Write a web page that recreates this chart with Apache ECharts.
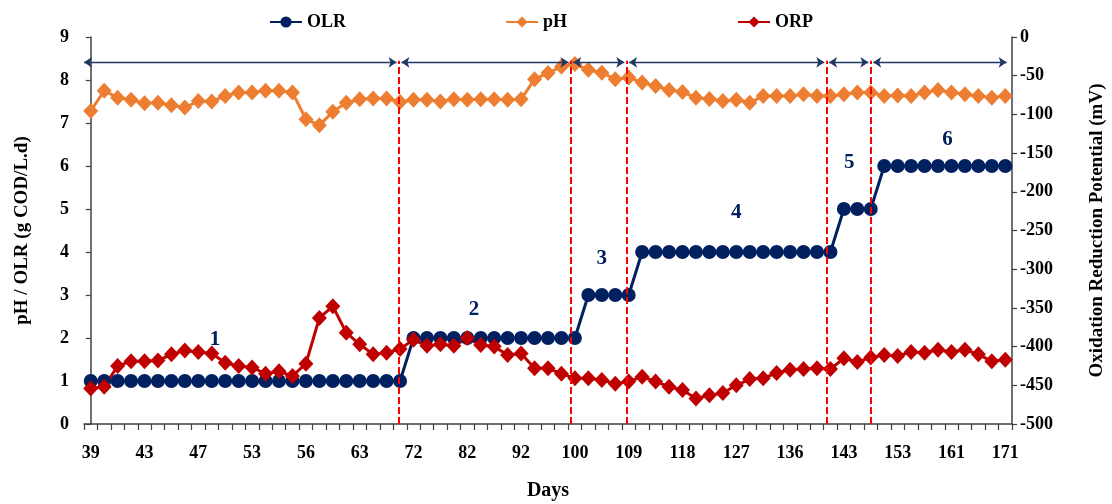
<!DOCTYPE html>
<html>
<head>
<meta charset="utf-8">
<script src="https://cdn.jsdelivr.net/npm/echarts@6/dist/echarts.min.js"></script>
<style>
  html, body { margin: 0; padding: 0; background: #fff; }
  #chart { width: 1112px; height: 504px; }
</style>
</head>
<body>
<div id="chart"></div>
<script>
// days of operation (x categories, every 4th one is labelled)
var days = [39, 40, 41, 42, 43, 44, 45, 46, 47, 49, 50, 52, 53, 54, 54, 55, 56,
  58, 60, 61, 63, 65, 67, 70, 72, 74, 77, 79, 82, 84, 87, 89, 92, 94, 96, 98, 100,
  102, 104, 107, 109, 111, 113, 116, 118, 120, 122, 125, 127, 129, 131, 134, 136,
  138, 140, 141, 143, 145, 148, 150, 153, 155, 157, 159, 161, 163, 166, 168, 171];

// organic loading rate, g COD/L.d
var olr = [1, 1, 1, 1, 1, 1, 1, 1, 1, 1, 1, 1, 1, 1, 1, 1, 1, 1, 1, 1, 1, 1, 1, 1,
  2, 2, 2, 2, 2, 2, 2, 2, 2, 2, 2, 2, 2,
  3, 3, 3, 3,
  4, 4, 4, 4, 4, 4, 4, 4, 4, 4, 4, 4, 4, 4, 4,
  5, 5, 5,
  6, 6, 6, 6, 6, 6, 6, 6, 6, 6];

var ph = [7.28, 7.75, 7.59, 7.54, 7.46, 7.47, 7.41, 7.36, 7.51, 7.50, 7.63, 7.71,
  7.71, 7.75, 7.75, 7.71, 7.09, 6.95, 7.26, 7.47, 7.55, 7.57, 7.57, 7.49,
  7.54, 7.54, 7.50, 7.55, 7.54, 7.55, 7.55, 7.54, 7.55, 8.02, 8.16, 8.31, 8.37,
  8.24, 8.17, 8.02, 8.06, 7.94, 7.86, 7.77, 7.72, 7.59, 7.56,
  7.51, 7.54, 7.47, 7.63, 7.63, 7.63, 7.67, 7.63, 7.63, 7.67, 7.71, 7.71, 7.63,
  7.64, 7.63, 7.71, 7.77, 7.71, 7.67, 7.63, 7.59, 7.63];

// oxidation reduction potential, mV
var orp = [-454, -452, -425, -419, -419, -418, -410, -405, -407, -409, -421, -425,
  -427, -435, -432, -438, -422, -363, -348, -382, -397, -410, -408, -403,
  -391, -399, -397, -399, -389, -398, -400, -411, -409, -428, -428, -435, -441,
  -441, -443, -448, -445, -439, -445, -452, -456, -467, -463,
  -460, -450, -442, -441, -434, -430, -429, -428, -429, -415, -420, -414, -411,
  -412, -407, -408, -404, -407, -404, -410, -419, -417];

// phase boundaries (in category index units) and phase numbers
var phaseBounds = [22.92, 35.7, 39.85, 54.72, 58.0];
var phaseNames = ['1', '2', '3', '4', '5', '6'];
var phaseNameX = [9.24, 28.5, 38.0, 48.0, 56.4, 63.7];
var phaseNameY = [1.96, 2.66, 3.84, 4.92, 6.08, 6.62];
var arrowLevel = 8.41;

var font = 'Liberation Serif';
var axisColor = '#404040';

// arrows between the phase boundaries
var edges = [-0.5].concat(phaseBounds).concat([68.6]);
var arrowLines = [];
for (var i = 0; i < edges.length - 1; i++) {
  var a = i == 0 ? edges[i] : edges[i] + 0.18;
  var b = i == edges.length - 2 ? 68.1 : edges[i + 1] - 0.18;
  arrowLines.push([{coord: [a, arrowLevel]}, {coord: [b, arrowLevel]}]);
}
var boundLines = [];
for (var i = 0; i < phaseBounds.length; i++) {
  boundLines.push([{coord: [phaseBounds[i], 0]}, {coord: [phaseBounds[i], arrowLevel + 0.04]}]);
}
var phasePoints = [];
for (var i = 0; i < phaseNames.length; i++) {
  phasePoints.push({name: phaseNames[i], coord: [phaseNameX[i], phaseNameY[i]]});
}

var legendText = {fontFamily: font, fontSize: 18, fontWeight: 'bold', color: '#000'};
var labelText = {fontFamily: font, fontSize: 18, fontWeight: 'bold', color: '#000'};

var chart = echarts.init(document.getElementById('chart'));
var option = {
  animation: false,
  backgroundColor: '#fff',
  grid: {left: 84, right: 100, top: 37, bottom: 80, containLabel: false, outerBoundsMode: 'none'},
  legend: [
    {data: ['OLR'], left: 264, top: 8, itemWidth: 32, itemHeight: 14, itemGap: 4, textStyle: legendText},
    {data: ['pH'], left: 500, top: 8, itemWidth: 32, itemHeight: 14, textStyle: legendText},
    {data: ['ORP'], left: 732, top: 8, itemWidth: 32, itemHeight: 14, textStyle: legendText}
  ],
  xAxis: [{
    type: 'category',
    data: days,
    boundaryGap: true,
    name: 'Days',
    nameLocation: 'middle',
    nameGap: 57,
    nameTextStyle: {fontFamily: font, fontSize: 20, fontWeight: 'bold', color: '#000'},
    axisLine: {lineStyle: {color: axisColor, width: 1.5}},
    axisTick: {show: true, interval: 0, alignWithLabel: false, length: 6, lineStyle: {color: axisColor, width: 1.2}},
    axisLabel: Object.assign({interval: 3, margin: 20}, labelText)
  }, {
    type: 'value',
    min: -0.5,
    max: 68.5,
    show: false
  }],
  yAxis: [{
    type: 'value',
    min: 0,
    max: 9,
    interval: 1,
    name: 'pH / OLR (g COD/L.d)',
    nameLocation: 'middle',
    nameGap: 52,
    nameTextStyle: {fontFamily: font, fontSize: 19, fontWeight: 'bold', color: '#000'},
    axisLine: {show: true, lineStyle: {color: axisColor, width: 1.5}},
    axisTick: {show: true, length: 5, lineStyle: {color: axisColor, width: 1.2}},
    axisLabel: Object.assign({margin: 15}, labelText),
    splitLine: {show: false}
  }, {
    type: 'value',
    min: -500,
    max: 0,
    interval: 50,
    position: 'right',
    name: 'Oxidation Reduction Potential (mV)',
    nameLocation: 'middle',
    nameRotate: 90,
    nameGap: 76,
    nameTextStyle: {fontFamily: font, fontSize: 19, fontWeight: 'bold', color: '#000'},
    axisLine: {show: true, lineStyle: {color: axisColor, width: 1.5}},
    axisTick: {show: true, length: 5, lineStyle: {color: axisColor, width: 1.2}},
    axisLabel: Object.assign({margin: 8}, labelText),
    splitLine: {show: false}
  }],
  series: [{
    name: 'OLR',
    type: 'line',
    data: olr,
    symbol: 'circle',
    symbolSize: 14,
    showAllSymbol: true,
    color: '#002060',
    lineStyle: {width: 3},
    emphasis: {disabled: true}
  }, {
    name: 'pH',
    type: 'line',
    data: ph,
    symbol: 'diamond',
    symbolSize: [15, 16],
    showAllSymbol: true,
    color: '#ED7D31',
    lineStyle: {width: 3},
    emphasis: {disabled: true}
  }, {
    name: 'ORP',
    type: 'line',
    yAxisIndex: 1,
    data: orp,
    symbol: 'diamond',
    symbolSize: [15, 16],
    showAllSymbol: true,
    color: '#C00000',
    lineStyle: {width: 3},
    emphasis: {disabled: true}
  }, {
    name: 'phases',
    type: 'line',
    xAxisIndex: 1,
    yAxisIndex: 0,
    data: [],
    markLine: {
      silent: true,
      symbol: 'none',
      label: {show: false},
      lineStyle: {color: '#FF0000', width: 2, type: [7, 3]},
      data: boundLines
    },
    markPoint: {
      silent: true,
      symbol: 'rect',
      symbolSize: 1,
      itemStyle: {color: 'rgba(0,0,0,0)'},
      label: {
        show: true,
        formatter: function (p) { return p.name; },
        fontFamily: font, fontSize: 21, fontWeight: 'bold', color: '#002060'
      },
      data: phasePoints
    }
  }, {
    name: 'arrows',
    type: 'line',
    xAxisIndex: 1,
    yAxisIndex: 0,
    data: [],
    markLine: {
      silent: true,
      symbol: ['arrow', 'arrow'],
      symbolSize: 8,
      label: {show: false},
      lineStyle: {color: '#1F3864', width: 1.3, type: 'solid'},
      data: arrowLines
    }
  }]
};
chart.setOption(option);
</script>
</body>
</html>
